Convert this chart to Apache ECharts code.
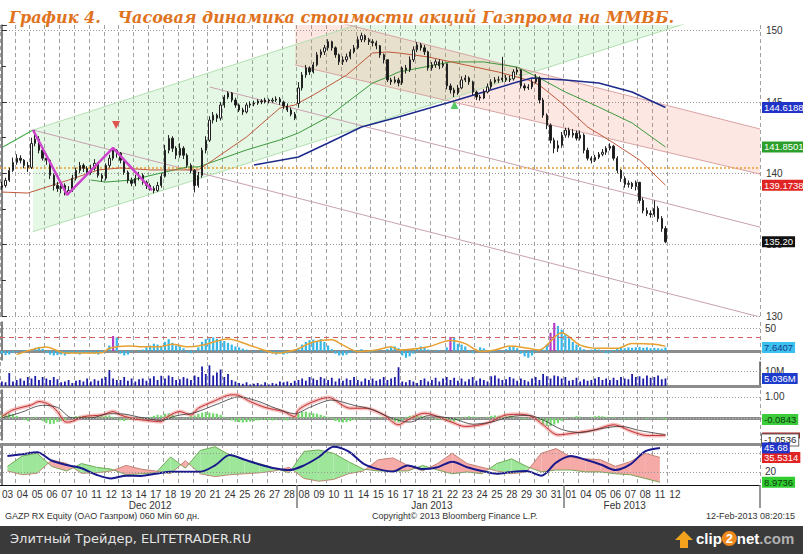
<!DOCTYPE html>
<html><head><meta charset="utf-8">
<script src="https://cdn.jsdelivr.net/npm/echarts/dist/echarts.min.js"></script>
<style>html,body{margin:0;padding:0;background:#fff}#c{width:803px;height:554px}</style>
</head><body><div id="c"></div>
<script>
// ---------------- DATA ----------------
const DAYS = ['03','04','05','06','07','10','11','12','13','14','17','18','19','20','21','24','25','26','27','28',
  '08','09','10','11','14','15','16','17','18','21','22','23','24','25','28','29','30','31',
  '01','04','05','06','07','08','11','12'];
const MONTHS = ['Dec 2012','Jan 2013','Feb 2013'];
const MONTH_START = [0, 20, 38];
const BARS_PER_DAY = 4;
const SLOTS = 205;

// hourly-ish candles, 4 per trading day: [open, close, low, high]
const CANDLES = [
[139.00,139.15,138.85,139.40],[139.15,139.51,139.00,139.70],[139.51,140.21,139.40,140.40],[140.21,140.77,140.10,141.10],
[140.77,141.06,140.60,141.34],[141.06,140.92,140.70,141.27],[140.92,140.56,140.35,141.00],[140.56,140.42,140.10,140.80],
[140.42,142.10,140.30,142.50],[142.10,142.40,141.90,143.03],[142.40,141.62,141.40,142.60],[141.62,141.06,140.90,141.80],
[141.06,140.92,140.60,141.30],[140.92,139.86,139.60,141.00],[139.86,139.15,138.80,140.00],[139.15,138.94,138.70,139.40],
[138.94,139.15,138.60,139.40],[139.15,138.66,138.45,139.30],[138.66,138.80,138.50,139.10],[138.80,139.65,138.70,139.90],
[139.65,140.21,139.50,140.40],[140.21,140.56,140.00,140.80],[140.56,140.35,140.10,140.70],[140.35,140.07,139.90,140.50],
[140.07,140.35,139.90,140.60],[140.35,140.70,140.20,141.00],[140.70,139.86,139.70,140.80],[139.86,139.65,139.40,140.00],
[139.65,140.56,139.50,140.70],[140.56,141.06,140.40,141.30],[141.06,141.62,140.90,141.80],[141.62,141.41,141.10,141.70],
[141.41,140.92,140.70,141.50],[140.92,140.07,139.90,141.00],[140.07,139.51,139.30,140.20],[139.51,139.30,139.10,139.70],
[139.30,139.65,139.10,139.90],[139.65,139.86,139.50,140.10],[139.86,139.37,139.20,140.00],[139.37,139.15,138.90,139.50],
[139.15,138.94,138.80,139.30],[138.94,138.80,138.60,139.10],[138.80,139.15,138.70,139.40],[139.15,139.79,139.00,140.00],
[139.79,141.62,139.70,142.00],[141.62,142.46,141.40,142.68],[142.46,141.76,141.50,142.60],[141.76,141.27,141.00,141.90],
[141.27,141.76,141.10,142.11],[141.76,141.27,141.00,141.90],[141.27,140.56,140.40,141.40],[140.56,140.21,140.00,140.70],
[140.21,139.15,138.66,140.30],[139.15,139.86,139.00,140.10],[139.86,141.62,139.70,141.80],[141.62,142.32,141.40,142.60],
[142.32,143.73,142.20,144.00],[143.73,144.08,143.50,144.30],[144.08,143.87,143.60,144.20],[143.87,144.79,143.70,145.00],
[144.79,145.35,144.60,145.50],[145.35,145.63,145.20,145.75],[145.63,145.14,145.00,145.70],[145.14,144.79,144.60,145.30],
[144.79,144.44,144.30,144.90],[144.44,144.30,144.10,144.60],[144.30,144.79,144.20,144.95],[144.79,144.86,144.60,145.05],
[144.86,144.93,144.70,145.10],[144.93,145.07,144.80,145.20],[145.07,145.00,144.85,145.20],[145.00,145.14,144.90,145.30],
[145.14,145.07,144.90,145.25],[145.07,145.14,144.95,145.30],[145.14,145.21,145.00,145.40],[145.21,145.00,144.80,145.35],
[145.00,144.72,144.50,145.10],[144.72,144.44,144.30,144.90],[144.44,144.15,144.00,144.60],[144.15,143.87,143.73,144.30],
[144.90,145.99,144.60,146.40],[145.99,146.90,145.80,147.10],[146.90,147.39,146.70,147.60],[147.39,147.11,146.90,147.50],
[147.11,147.61,147.00,147.80],[147.61,148.31,147.50,148.50],[148.31,148.52,148.10,148.70],[148.52,148.80,148.30,149.00],
[148.80,149.23,148.60,149.40],[149.23,148.80,148.60,149.30],[148.80,148.31,148.10,148.90],[148.31,147.82,147.60,148.40],
[147.82,147.96,147.60,148.20],[147.96,148.17,147.80,148.40],[148.17,148.52,148.00,148.70],[148.52,148.80,148.40,149.00],
[148.80,149.37,148.70,149.60],[149.37,149.65,149.20,149.86],[149.65,149.37,149.20,149.75],[149.37,149.23,149.00,149.50],
[149.23,149.15,148.90,149.40],[149.15,148.94,148.70,149.30],[148.94,148.31,148.10,149.00],[148.31,147.96,147.70,148.40],
[147.96,146.55,146.40,148.00],[146.55,146.41,146.20,146.70],[146.41,146.55,146.30,146.80],[146.55,146.34,146.10,146.70],
[146.34,147.39,146.20,147.50],[147.39,147.25,147.00,147.60],[147.25,147.96,147.10,148.20],[147.96,148.66,147.80,148.90],
[148.66,149.01,148.50,149.20],[149.01,148.80,148.60,149.15],[148.80,148.52,148.30,149.00],[148.52,147.39,147.20,148.60],
[147.39,147.61,147.20,147.80],[147.61,147.82,147.40,148.00],[147.82,147.54,147.30,148.00],[147.54,147.68,147.40,147.90],
[147.68,146.13,145.90,147.70],[146.13,145.85,145.60,146.30],[145.85,145.63,145.35,146.00],[145.63,145.99,145.50,146.20],
[145.99,146.55,145.90,146.80],[146.55,146.69,146.40,146.90],[146.69,146.41,146.20,146.80],[146.41,145.70,145.50,146.50],
[145.70,145.35,145.14,145.80],[145.35,145.28,145.10,145.50],[145.28,145.70,145.20,145.90],[145.70,146.06,145.60,146.30],
[146.06,146.41,145.90,146.60],[146.41,146.55,146.30,146.75],[146.55,146.55,146.35,146.80],[146.55,146.69,146.40,148.17],
[146.69,146.55,146.40,146.90],[146.55,146.62,146.40,146.85],[146.62,147.11,146.50,147.30],[147.11,147.25,146.90,147.45],
[147.25,146.13,145.95,147.30],[146.13,145.99,145.80,146.30],[145.99,146.06,145.85,146.25],[146.06,146.41,145.90,146.60],
[146.41,146.69,146.30,146.95],[146.69,145.14,144.90,146.80],[145.14,144.08,143.90,145.30],[144.08,143.38,143.10,144.20],
[143.38,142.32,142.10,143.50],[142.32,141.76,141.41,142.50],[141.76,141.97,141.50,142.30],[141.97,142.68,141.80,142.90],
[142.68,143.03,142.50,143.20],[143.03,142.68,142.50,143.20],[142.68,142.82,142.50,143.10],[142.82,142.46,142.30,143.00],
[142.46,142.68,142.30,143.00],[142.68,141.62,141.40,142.80],[141.62,141.06,140.90,141.80],[141.06,140.92,140.70,141.20],
[140.92,141.13,140.80,141.30],[141.13,141.34,141.00,141.50],[141.34,141.48,141.20,141.70],[141.48,141.76,141.30,141.90],
[141.76,141.90,141.60,142.11],[141.90,141.06,140.90,142.00],[141.06,140.21,140.00,141.20],[140.21,139.65,139.40,140.30],
[139.65,139.23,139.00,139.80],[139.23,139.30,139.00,139.50],[139.30,139.08,138.90,139.40],[139.08,139.37,138.80,139.50],
[139.37,138.10,137.90,139.40],[138.10,137.39,137.20,138.30],[137.39,137.18,137.00,137.60],[137.18,137.11,136.90,137.40],
[137.11,137.54,136.95,138.10],[137.54,136.83,136.60,137.70],[136.83,136.13,135.90,137.00],[136.13,135.20,135.10,136.30]
];

// moving averages: [bar index, price]
const MA_RED = [[0,138.69],[7,138.62],[18,139.53],[26,140.24],[32,140.38],[40,140.24],[53,140.24],[57,140.94],[66,142.55],[75,144.58],[79,144.79],[84,145.49],[93,146.89],[100,148.44],[104,148.51],[107,148.44],[115,148.16],[125,147.60],[134,147.10],[142,146.54],[145,146.19],[151,144.93],[158,143.25],[165,142.13],[172,140.94],[179,139.1738]];
const MA_GREEN = [[24,139.53],[28,139.39],[35,139.53],[43,140.03],[50,140.45],[53,140.45],[66,141.64],[75,142.34],[80,142.83],[88,143.95],[95,145.35],[100,146.33],[104,146.75],[107,147.10],[121,147.81],[130,147.81],[139,147.45],[145,146.68],[152,145.70],[161,144.65],[170,143.53],[179,141.8501]];
const MA_BLUE = [[68,140.59],[80,141.15],[88,142.13],[97,143.25],[107,143.95],[121,145.00],[130,145.70],[139,146.40],[143,146.68],[152,146.54],[161,146.33],[170,145.70],[179,144.6188]];
const LAST = {price: 135.20, maBlue: 144.6188, maGreen: 141.8501, maRed: 139.1738};

// drawn studies: [bar position, price]
const ZIGZAG = [[8.4,143.04],[17.6,138.49],[30.0,141.78],[40.5,138.83]];
const SIGNAL_DOWN = [[30.8,143.39]];
const SIGNAL_UP = [[122.1,144.79]];
const GREEN_LEAD = [[0.3,141.85],[8.4,143.04]];
const GREEN_CH_UP = [[8.4,143.04],[95.5,150.40]];
const GREEN_CH_LOW = [[8.4,135.91],[184.8,150.54]];
const GREEN_CH_FILL = [[8.4,143.04],[110,151.63],[190,150.97],[8.4,135.91]];
const RED_CH_UP = [[79.1,151.35],[204.5,143.11]];
const RED_CH_LOW = [[79.1,147.60],[204.5,139.95]];
const RED_CH_FILL = [[79.1,151.35],[204.5,143.11],[204.5,139.95],[79.1,147.60]];
const TREND_MID = [[56.1,146.05],[204.5,136.23]];
const TREND_LOW = [[8.4,143.04],[204.5,129.93]];
const LEVEL = 140.37;

// oscillator panel
const OSC_HIST = [-6,-9,-8,-4, -2,1,2,0, 3,7,9,5, -4,-8,-10,-9, -8,-10,-7,-5, -6,-8,-5,-3, -4,-6,-8,-3, 2,12,33,30,
 -6,-10,-8,-2, 0,-2,3,8, 12,16,14,10, 20,26,18,12, 10,6,-3,-5, -2,8,20,26, 28,30,27,24, 22,18,14,10, 8,5,3,0,
 -2,0,-3,-1, -4,-6,-8,-5, -8,-6,-3,0, 6,14,20,24, 25,22,26,20, 12,4,-6,-10, -10,-8,-4,-2, 2,4,0,-3, -2,3,1,-1,
 4,8,10,6, -10,-15,-12,-6, 4,10,8,3, 1,-2,2,0, 8,31,29,16, 14,10,-3,-5, 3,8,6,-1, -3,-1,2,-2, 4,9,10,6,
 -6,-12,-15,-10, -2,0,3,14, 40,62,55,47, 38,28,20,14, 8,4,1,3, 5,3,-2,-5, -4,2,5,7, 6,8,7,8, 9,7,8,6, 7,6,5,7.6407];
const OSC_SIGNAL = [[4,-8],[12,9],[17,-4.6],[22,-4.6],[27,-4],[29,5.8],[34,10.7],[39,9.3],[43,10],[46,14.8],[50,9.3],[54,12.8],[61,26.6],[68,9.3],[74,-4.6],[79,2.3],[84,19.7],[89,24.5],[92,12.8],[96,-1.1],[101,2.3],[105,9.3],[107,2.3],[115,9.3],[121,23.2],[125,16.2],[129,-1.1],[133,2.3],[137,10.7],[142,5.8],[145,2.3],[151,40.5],[156,12.8],[161,5.8],[166,5.8],[170,16.2],[176,14.8],[179,10.7]];
const OSC_LAST = 7.6407;

// volume, millions
const VOLUME = [3,2.5,8.7,3, 4,5,3.5,6, 5,6.7,4,6, 5,4,6,4.5, 2.5,3,4,2, 3.5,4,3,5, 3,4.5,3.5,5, 6,10.7,5,4,
 4,6,3.5,5, 3,4.5,5,3.5, 5,6.5,4,6.8, 5,7,6,4, 4.5,6,5,4, 7,6,13,8, 13.8,7,9,11, 6,8,4,3, 2,1.5,2.5,1,
 1.5,2,1,2.5, 1,2,1.5,3, 2.5,3,2,3.5, 4,5,3.5,6, 5,4,6,5, 4,5.5,3,5, 3.5,5,4,6, 4,3,5,4, 5,3.5,4.5,6,
 4,5,6,12.5, 3,2.5,4,3, 2,4,5,3, 4,5.5,3,5, 6,4,5.5,3.5, 5,3,4.5,6, 3.5,5,4,3, 6.5,7,5,4, 4.5,6,5,3.5,
 5,4,3,5, 6,4,8,6.5, 5,7,6.5,5, 6,3.5,4,5.5, 3,4.5,3.5,4, 5,6,4,5, 4,5.5,4,6, 5,4.5,8,6, 6.5,5,7,5.5, 6,7,4.5,5.036];
const VOL_LAST = '5.036M';

// MACD panel
const MACD_HIST = [0.15,0.2,0.22,0.18, 0.1,0,-0.1,-0.15, -0.05,0.05,0,-0.15, -0.25,-0.3,-0.28,-0.2, -0.15,-0.1,0,0.05,
 0.08,0.1,0.08,0.05, 0.05,0.03,0.06,0.08, 0.1,0.12,0.05,-0.05, -0.12,-0.15,-0.1,-0.05, -0.05,-0.08,-0.06,0,
 0.05,0.1,0.15,0.12, 0.2,0.22,0.15,0.05, 0,-0.05,0.02,0.08, 0.12,0.2,0.25,0.28, 0.25,0.22,0.2,0.15,
 0.05,-0.05,-0.12,-0.18, -0.2,-0.22,-0.2,-0.18, -0.15,-0.12,-0.1,-0.08, -0.1,-0.12,-0.08,-0.05, -0.1,-0.12,-0.05,0.05,
 0.2,0.28,0.3,0.25, 0.22,0.2,0.15,0.1, 0.05,-0.05,-0.15,-0.2, -0.22,-0.2,-0.15,-0.1, -0.08,-0.05,-0.06,-0.04,
 -0.05,0,0.05,0.02, 0,-0.1,-0.18,-0.22, -0.12,0.05,0.1,0.12, 0.15,0.1,0.05,0, -0.05,-0.1,-0.08,-0.1,
 -0.15,-0.2,-0.18,-0.12, -0.05,0.05,0.08,0.06, 0.05,0.02,-0.03,0.05, 0.1,0.12,0.1,0.05, 0.08,0.1,0.05,0,
 -0.05,-0.08,-0.05,0, 0,-0.15,-0.3,-0.38, -0.4,-0.32,-0.25,-0.15, -0.05,0,0.05,0.08, 0.06,0,-0.02,0.05,
 0.08,0.1,0.08,0.05, 0.02,0.05,0,-0.05, -0.08,-0.05,-0.03,0.02, 0,-0.03,-0.05,-0.04, -0.03,-0.06,-0.05,-0.0843];
const MACD_LINE = [[0,0.06],[3,0.38],[8,0.62],[10,0.78],[13,0.62],[15,0.3],[17,-0.18],[18,-0.2],[22,0.06],[27,0.14],[30,0.3],[32,0.14],[35,-0.02],[40,-0.14],[43,-0.18],[44,-0.02],[48,0.3],[51,0.14],[53,0.46],[57,0.78],[62,1.1],[63,1.1],[67,0.78],[71,0.5],[76,0.3],[79,0.06],[80,0.38],[83,0.7],[88,0.97],[89,0.94],[94,0.46],[98,0.46],[103,0.14],[107,-0.33],[109,-0.14],[114,0.22],[121,-0.18],[125,-0.41],[131,-0.25],[136,0.14],[140,0.17],[143,0.06],[146,-0.33],[150,-0.81],[154,-0.73],[160,-0.57],[165,-0.33],[170,-0.65],[174,-0.84],[179,-0.84]];
const MACD_SIGNAL = [[0,0],[5,0.25],[11,0.6],[15,0.5],[19,0],[24,0],[29,0.2],[33,0.18],[38,0],[43,-0.12],[47,0.1],[52,0.25],[58,0.65],[64,1.0],[69,0.8],[74,0.45],[79,0.2],[83,0.5],[89,0.85],[95,0.6],[100,0.4],[105,0],[110,-0.2],[115,0.1],[122,-0.05],[127,-0.3],[132,-0.2],[137,0.05],[142,0.12],[146,-0.1],[151,-0.55],[156,-0.7],[162,-0.5],[167,-0.4],[172,-0.6],[179,-0.8]];
const MACD_LAST = -0.0843;
const MACD_MIN = -1.0536;

// DMI panel, one value per trading day
const DI_PLUS = [26,37,40,25.7,21,29,25,23,17,18,19,36,24,43,47,38,33,29,24,19,42,43.5,40,31,23,21,21,21,27,22,18,20,18,29,34,26,20,22,22,20,20,18,17,13,8.9736];
const DI_MINUS = [21,17,18.5,32.8,29,18.5,19,21,27,23,21,18,32,18,15,17,18,19,21,25,13,10,12,18,21,33,35,27,21,29,40,29,25,21,18,20,40,45,36,34,33,26,31,40,35.5314];
const ADX = [37,39,41,32,27.5,24,17,13,16,15.7,18,20.3,20.3,20.3,27,38,33,28,24,22,27,36,47,42,29,23,20.5,27,23,25,31,25,21,18,20,21,16,30,37,33,28,22,28,42,45.68];

// ---------------- CHART ----------------
const FONT = "'Liberation Sans Narrow','Arial Narrow',sans-serif";
const NB = CANDLES.length;
const cats = Array.from({length: SLOTS}, (_, i) => 'b' + i);
const dayX = k => k * BARS_PER_DAY + 1.5;
const monthCenters = MONTH_START.map((s, m) => {
  const e = m + 1 < MONTH_START.length ? MONTH_START[m + 1] : DAYS.length;
  return Math.round((s + e) / 2 * BARS_PER_DAY);
});

const chart = echarts.init(document.getElementById('c'), null, {renderer: 'svg', width: 803, height: 554});

const gridBoxes = [[25, 291], [322, 38], [362, 24], [390, 50], [444, 41]];
const grids = gridBoxes.map(b => ({left: 0, width: 760, top: b[0], height: b[1], outerBoundsMode: 'none', containLabel: false}));

const dashV = {show: true, interval: i => i % BARS_PER_DAY === 0 && i <= NB, lineStyle: {color: '#a0a0a0', type: [4, 3], width: 1}};
function catAxis(g, extra) {
  return Object.assign({type: 'category', gridIndex: g, data: cats, boundaryGap: true,
    axisLabel: {show: false}, axisTick: {show: false}, axisLine: {show: false}, splitLine: dashV}, extra || {});
}
function valX(g) { return {type: 'value', gridIndex: g, min: -0.5, max: SLOTS - 0.5, show: false, splitLine: {show: false}}; }
const sep = {show: true, lineStyle: {color: '#8c8c8c', width: 3}};

const xAxes = [
  catAxis(0),                                   // 0
  valX(0),                                      // 1
  catAxis(1, {position: 'top', axisLine: sep}), // 2
  valX(1),                                      // 3
  catAxis(2, {position: 'top', axisLine: sep}), // 4
  catAxis(3, {position: 'top', axisLine: sep}), // 5
  valX(3),                                      // 6
  catAxis(4, {position: 'top', axisLine: sep}), // 7
  valX(4),                                      // 8
  catAxis(4, {position: 'bottom', splitLine: {show: false},
    axisLine: {show: true, lineStyle: {color: '#111', width: 1}},
    axisTick: {show: true, interval: i => MONTH_START.slice(1).some(m => m * BARS_PER_DAY === i), length: 23, lineStyle: {color: '#777', width: 1.5}},
    axisLabel: {show: true, interval: i => i % BARS_PER_DAY === 1 && i < DAYS.length * BARS_PER_DAY,
      formatter: (v, i) => DAYS[Math.floor(i / BARS_PER_DAY)], fontSize: 10, color: '#333', fontFamily: FONT, margin: 4, padding: [0, 0, 0, 4]}}), // 9
  catAxis(4, {position: 'bottom', offset: 11, splitLine: {show: false},
    axisLabel: {show: true, interval: i => monthCenters.includes(i),
      formatter: (v, i) => MONTHS[monthCenters.indexOf(i)], fontSize: 10, color: '#333', fontFamily: FONT, margin: 4}}) // 10
];

const rAxisLine = {show: true, lineStyle: {color: '#555', width: 1.5}};
function subY(g, min, max) {
  return {type: 'value', gridIndex: g, position: 'right', min, max, axisLine: rAxisLine,
    axisTick: {show: false}, axisLabel: {show: false}, splitLine: {show: false}};
}
const yAxes = [
  {type: 'value', gridIndex: 0, position: 'right', min: 130, max: 150.4, interval: 5,
    axisLine: rAxisLine, axisTick: {show: true, length: 5, lineStyle: {color: '#333'}},
    minorTick: {show: true, splitNumber: 2, length: 4, lineStyle: {color: '#333'}},
    axisLabel: {formatter: v => (Math.abs(v % 5) < 1e-6 ? String(v) : ''), fontFamily: FONT, fontSize: 10, color: '#333', margin: 6, showMaxLabel: false},
    splitLine: {show: true, showMaxLine: false, lineStyle: {color: '#999', type: [1, 2]}}},
  subY(1, -20, 64),
  subY(2, 0, 16),
  subY(3, MACD_MIN, 1.33),
  subY(4, 6, 49.9)
];

const hidden = {color: 'rgba(0,0,0,0)', width: 0};
function tag(v, text, bg, fg) {
  return {yAxis: v, lineStyle: hidden,
    label: {show: true, position: 'end', distance: 2, formatter: text, backgroundColor: bg, color: fg || '#fff', opacity: 1,
      padding: [1, 2, 0, 2], fontSize: 9.5, fontFamily: FONT}};
}
function level(v, text, color, type, width) {
  return {yAxis: v, lineStyle: {color: color, type: type, width: width || 1},
    label: {show: !!text, position: 'end', distance: 5, formatter: text || '', color: '#333', fontSize: 10, fontFamily: FONT}};
}
function mline(data) { return {symbol: ['none', 'none'], silent: true, animation: false, data}; }

function line(data, xi, yi, color, width, extra) {
  return Object.assign({type: 'line', xAxisIndex: xi, yAxisIndex: yi, data, symbol: 'none', showSymbol: false,
    silent: true, animation: false, lineStyle: {color, width}, z: 3}, extra || {});
}
function poly(pts, color, xi, yi) {
  return {type: 'custom', xAxisIndex: xi, yAxisIndex: yi, clip: true, silent: true, z: 1, data: [[0]],
    renderItem: (p, api) => ({type: 'polygon', shape: {points: pts.map(q => api.coord(q))}, style: {fill: color}})};
}

const oscData = OSC_HIST.map((v, i) => ({value: v, itemStyle: {color: (v > 30 && i > 0 && v >= OSC_HIST[i - 1]) ? '#b43cc8' : '#38b6e6'}}));

const dmiFill = {
  type: 'custom', xAxisIndex: 8, yAxisIndex: 4, clip: true, silent: true, z: 1,
  data: DI_PLUS.slice(0, -1).map((_, k) => [k]),
  renderItem: (params, api) => {
    const k = params.dataIndex;
    const x0 = dayX(k), x1 = dayX(k + 1);
    const p0 = DI_PLUS[k], p1 = DI_PLUS[k + 1], m0 = DI_MINUS[k], m1 = DI_MINUS[k + 1];
    const G = '#9ee79a', R = '#f6aaa8';
    const pg = (pts, c) => ({type: 'polygon', shape: {points: pts.map(q => api.coord(q))}, style: {fill: c}});
    const d0 = p0 - m0, d1 = p1 - m1;
    if (d0 * d1 >= 0) return pg([[x0, p0], [x1, p1], [x1, m1], [x0, m0]], (d0 + d1) >= 0 ? G : R);
    const t = d0 / (d0 - d1), xc = x0 + t * (x1 - x0), yc = p0 + t * (p1 - p0);
    return {type: 'group', children: [pg([[x0, p0], [xc, yc], [x0, m0]], d0 > 0 ? G : R), pg([[xc, yc], [x1, p1], [x1, m1]], d1 > 0 ? G : R)]};
  }
};

const series = [
  // main panel
  poly(GREEN_CH_FILL, 'rgba(110,210,110,0.18)', 1, 0),
  poly(RED_CH_FILL, 'rgba(240,120,100,0.18)', 1, 0),
  line(GREEN_CH_UP, 1, 0, '#b2e0b0', 1),
  line(GREEN_CH_LOW, 1, 0, '#b2e0b0', 1),
  line(GREEN_LEAD, 1, 0, '#4caf50', 1.2),
  line(RED_CH_UP, 1, 0, '#d9a3a3', 1),
  line(RED_CH_LOW, 1, 0, '#d9a3a3', 1),
  line(TREND_MID, 1, 0, '#c9a0b0', 1),
  line(TREND_LOW, 1, 0, '#c9a0b0', 1),
  line([[-0.5, LEVEL], [SLOTS - 0.5, LEVEL]], 1, 0, '#f0a030', 1.5, {lineStyle: {color: '#f0a030', width: 1.5, type: [2, 2]}}),
  line(MA_GREEN, 1, 0, '#3d9a3d', 1, {markLine: mline([tag(LAST.maGreen, String(LAST.maGreen), '#2aa02a')])}),
  line(MA_RED, 1, 0, '#c0583a', 1, {markLine: mline([tag(LAST.maRed, String(LAST.maRed), '#e02424')])}),
  line(MA_BLUE, 1, 0, '#1c2a8c', 1.5, {markLine: mline([tag(LAST.maBlue, String(LAST.maBlue), '#2234c8')])}),
  {type: 'candlestick', xAxisIndex: 0, yAxisIndex: 0, data: CANDLES, barWidth: 1.8, z: 5, silent: true, animation: false,
    itemStyle: {color: '#ffffff', color0: '#1a1a1a', borderColor: '#222', borderColor0: '#222', borderWidth: 1},
    markLine: mline([tag(LAST.price, LAST.price.toFixed(2), '#111111')])},
  line(ZIGZAG, 1, 0, '#cc44cc', 2.5, {z: 6}),
  {type: 'scatter', xAxisIndex: 1, yAxisIndex: 0, data: SIGNAL_DOWN, symbol: 'triangle', symbolRotate: 180, symbolSize: 8, itemStyle: {color: '#e02a2a'}, silent: true, z: 7},
  {type: 'scatter', xAxisIndex: 1, yAxisIndex: 0, data: SIGNAL_UP, symbol: 'triangle', symbolSize: 8, itemStyle: {color: '#2dbb3d'}, silent: true, z: 7},

  // oscillator panel
  {type: 'bar', xAxisIndex: 2, yAxisIndex: 1, data: oscData, barWidth: 2.2, silent: true, animation: false,
    markLine: mline([level(50, '50', '#999', [1, 2]), level(30, '', '#d06060', [5, 4]), tag(OSC_LAST, String(OSC_LAST), '#3cc0ee', '#1a3a8a')])},
  line(OSC_SIGNAL, 3, 1, '#e8a030', 1.5, {smooth: 0.3}),

  // volume panel
  {type: 'bar', xAxisIndex: 4, yAxisIndex: 2, data: VOLUME, barWidth: 1.8, itemStyle: {color: '#1c1ca8'}, silent: true, animation: false,
    markLine: mline([level(10, '10M', '#999', [1, 2]), tag(5.036, VOL_LAST, '#1e3ccc')])},

  // MACD panel
  {type: 'bar', xAxisIndex: 5, yAxisIndex: 3, data: MACD_HIST, barWidth: 2.2, itemStyle: {color: '#72d86e'}, silent: true, animation: false,
    markLine: mline([level(1.0, '1.00', '#999', [1, 2]), level(0, '', '#bbb', [1, 2]),
      {yAxis: MACD_LINE[MACD_LINE.length - 1][1], lineStyle: hidden, label: {show: true, position: 'end', distance: 2, formatter: '{r|}', rich: {r: {width: 38, height: 6, backgroundColor: '#a82020'}}}},
      tag(MACD_LAST, String(MACD_LAST), '#3ccc3c', '#0a3a0a'),
      {yAxis: MACD_MIN, lineStyle: hidden, label: {show: true, position: 'end', distance: 2, formatter: String(MACD_MIN), backgroundColor: '#fff', borderColor: '#666', borderWidth: 1, color: '#222', padding: [1, 2, 0, 2], fontSize: 9.5, fontFamily: FONT}}])},
  line(MACD_LINE, 6, 3, 'rgba(235,120,120,0.45)', 4, {smooth: 0.3}),
  line(MACD_LINE, 6, 3, '#c03030', 1, {smooth: 0.3, z: 4}),
  line(MACD_SIGNAL, 6, 3, '#333', 0.8, {smooth: 0.3, z: 4}),

  // DMI panel
  dmiFill,
  line(DI_PLUS.map((v, k) => [dayX(k), v]), 8, 4, '#5a9a3a', 0.8,
    {markLine: mline([level(20, '20', '#999', [1, 2]), level(40, '', '#999', [1, 2]), tag(DI_PLUS[DI_PLUS.length - 1], String(DI_PLUS[DI_PLUS.length - 1]), '#30cc30', '#0a3a0a')])}),
  line(DI_MINUS.map((v, k) => [dayX(k), v]), 8, 4, '#b87060', 0.8,
    {markLine: mline([tag(DI_MINUS[DI_MINUS.length - 1], String(DI_MINUS[DI_MINUS.length - 1]), '#e02424')])}),
  line(ADX.map((v, k) => [dayX(k), v]), 8, 4, '#1a1a8c', 2,
    {smooth: 0.3, markLine: mline([tag(ADX[ADX.length - 1], String(ADX[ADX.length - 1]), '#2234c8')])})
];

const small = '9px ' + FONT;
chart.setOption({
  animation: false,
  backgroundColor: '#ffffff',
  title: {text: 'График 4.\u00a0\u00a0\u00a0Часовая динамика стоимости акций Газпрома на ММВБ.', left: 4, top: 4,
    textStyle: {color: '#E0731E', fontSize: 16, fontWeight: 'bold', fontStyle: 'italic', fontFamily: 'DejaVu Serif'}},
  grid: grids,
  xAxis: xAxes,
  yAxis: yAxes,
  series,
  graphic: [
    {type: 'text', left: 5, top: 511, style: {text: 'GAZP RX Equity (OAO Газпром) 060 Min 60 дн.', fill: '#333', font: small}},
    {type: 'text', left: 372, top: 511, style: {text: 'Copyright© 2013 Bloomberg Finance L.P.', fill: '#333', font: small}},
    {type: 'text', right: 8, top: 511, style: {text: '12-Feb-2013 08:20:15', fill: '#333', font: small}},
    {type: 'rect', left: 0, top: 526, shape: {width: 803, height: 28}, style: {fill: '#3a3a3a'}},
    {type: 'text', left: 10, top: 532, style: {text: 'Элитный Трейдер, ELITETRADER.RU', fill: '#e4e4e4', font: '13px DejaVu Sans'}},
    {type: 'polygon', shape: {points: [[684, 531], [693, 540], [688, 540], [688, 548], [680, 548], [680, 540], [675, 540]]}, style: {fill: '#f3a21e'}},
    {type: 'text', left: 696, top: 531, style: {text: '{a|clip}{b|2}{a|net}{c|.com}',
      rich: {a: {fill: '#ffffff', fontSize: 15, fontWeight: 'bold', fontFamily: 'Liberation Sans'},
             b: {fill: '#ffffff', fontSize: 13, fontWeight: 'bold', fontFamily: 'Liberation Sans', backgroundColor: '#f08a1c', borderRadius: 8, width: 15, height: 15, align: 'center'},
             c: {fill: '#b0b0b0', fontSize: 15, fontWeight: 'bold', fontFamily: 'Liberation Sans'}}}}
  ]
});
</script></body></html>
